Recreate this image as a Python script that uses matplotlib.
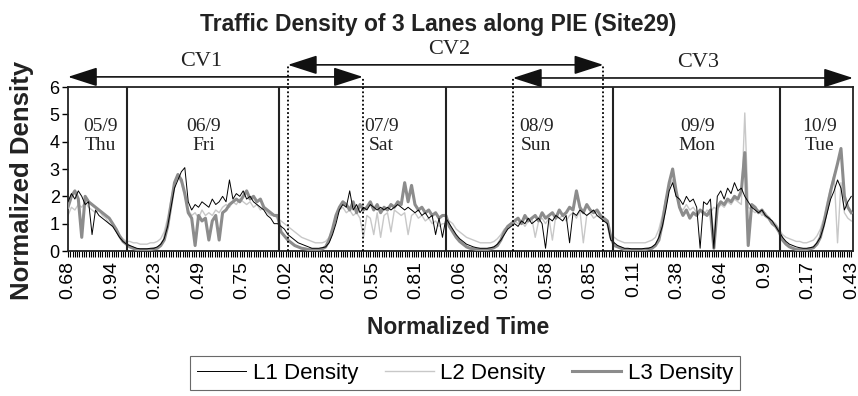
import numpy as np
import matplotlib.pyplot as plt

plt.rcParams['font.family'] = 'Liberation Sans'

# 5-min samples; values read every 6 samples (30 min), from Thu 16:19 to Tue 10:20
step = 6
tick_every = 76
tick_labels = ['0.68', '0.94', '0.23', '0.49', '0.75', '0.02', '0.28', '0.55', '0.81',
               '0.06', '0.32', '0.58', '0.85', '0.11', '0.38', '0.64', '0.9', '0.17', '0.43']

l1_density = (
    # Thu
    [1.8, 2.1, 1.9, 2.2, 2.0, 1.7, 1.8, 0.6, 1.5, 1.3, 1.2, 1.1, 1.0, 0.9, 0.7, 0.5, 0.35, 0.25]
    # Fri
    + [0.2, 0.15, 0.1, 0.08, 0.08, 0.08, 0.1, 0.1, 0.15, 0.25,
       0.45, 0.9, 1.6, 2.3, 2.6, 2.9, 3.05, 1.8, 1.5, 1.7,
       1.6, 1.8, 1.7, 1.6, 1.9, 1.7, 1.8, 2.0, 1.8, 2.6,
       1.9, 2.1, 2.0, 2.2, 1.9, 2.0, 1.8, 1.7, 1.6, 1.5,
       1.3, 1.2, 1.0, 1.0]
    # Sat
    + [0.9, 0.8, 0.6, 0.5, 0.4, 0.3, 0.25, 0.2, 0.15, 0.1,
       0.1, 0.1, 0.12, 0.15, 0.3, 0.6, 1.0, 1.5, 1.7, 1.6,
       2.2, 1.5, 1.7, 1.4, 1.6, 1.5, 1.7, 1.6, 1.5, 1.6,
       1.5, 1.6, 1.5, 1.6, 1.7, 1.6, 1.5, 1.6, 1.5, 1.4,
       1.5, 1.3, 1.4, 1.2, 1.3, 0.6, 1.2, 0.5, 1.2]
    # Sun
    + [1.0, 0.8, 0.6, 0.45, 0.35, 0.25, 0.2, 0.15, 0.12, 0.1,
       0.1, 0.1, 0.12, 0.15, 0.25, 0.4, 0.6, 0.8, 0.9, 1.0,
       0.9, 1.1, 1.0, 1.2, 1.0, 1.1, 1.2, 1.0, 0.1, 1.2,
       1.1, 1.3, 1.2, 1.1, 1.3, 0.3, 1.4, 1.3, 1.5, 1.4,
       1.3, 1.4, 1.5, 1.3, 1.2, 1.1, 1.0, 0.4]
    # Mon
    + [0.3, 0.2, 0.15, 0.1, 0.1, 0.08, 0.08, 0.08, 0.08, 0.1,
       0.1, 0.15, 0.25, 0.5, 0.9, 1.5, 2.2, 2.5, 2.0, 1.9,
       1.7, 2.0, 1.8, 1.9, 1.6, 0.1, 1.8, 1.7, 1.9, 0.1,
       2.0, 2.2, 1.9, 2.3, 2.1, 2.5, 2.2, 2.3, 2.0, 1.8,
       1.6, 1.5, 1.4, 1.5, 1.3, 1.2, 1.1, 0.9, 0.7]
    # Tue
    + [0.5, 0.35, 0.25, 0.2, 0.15, 0.12, 0.1, 0.1, 0.12, 0.15,
       0.3, 0.5, 0.9, 1.4, 1.9, 2.2, 2.6, 2.3, 1.5, 1.8, 2.0]
)

l2_density = (
    [1.3, 1.6, 1.5, 1.7, 1.6, 1.8, 1.6, 1.5, 1.4, 1.5, 1.3, 1.2, 1.0, 0.9, 0.8, 0.6, 0.45, 0.35]
    + [0.35, 0.3, 0.3, 0.25, 0.25, 0.25, 0.3, 0.3, 0.35, 0.45,
       0.7, 1.2, 1.9, 2.5, 2.7, 2.5, 2.0, 1.5, 1.3, 1.4,
       1.2, 1.5, 1.3, 1.4, 1.3, 1.5, 1.4, 1.6, 1.7, 1.6,
       1.8, 1.7, 1.9, 1.8, 1.7, 1.8, 1.6, 1.7, 1.5, 1.6,
       1.4, 1.3, 1.3, 1.2]
    + [1.1, 1.0, 0.9, 0.8, 0.7, 0.6, 0.5, 0.45, 0.4, 0.35,
       0.3, 0.3, 0.3, 0.35, 0.5, 0.8, 1.2, 1.5, 1.6, 1.4,
       1.5, 1.3, 1.4, 1.2, 0.5, 1.3, 1.2, 0.6, 1.4, 0.5,
       1.3, 1.4, 0.7, 1.5, 1.4, 1.3, 1.4, 0.6, 1.3, 1.4,
       1.2, 1.3, 1.1, 1.2, 1.0, 1.1, 0.9, 1.0, 1.0]
    + [1.1, 1.0, 0.8, 0.7, 0.6, 0.5, 0.45, 0.4, 0.35, 0.3,
       0.3, 0.3, 0.3, 0.35, 0.45, 0.6, 0.8, 0.9, 1.0, 1.1,
       1.0, 1.1, 0.9, 1.1, 1.2, 0.5, 1.1, 1.2, 1.0, 1.2,
       0.4, 1.3, 1.2, 1.3, 1.1, 1.3, 1.4, 1.2, 1.5, 0.3,
       1.3, 1.4, 1.2, 1.3, 1.2, 1.1, 1.0, 0.6]
    + [0.5, 0.4, 0.35, 0.3, 0.3, 0.3, 0.3, 0.3, 0.3, 0.3,
       0.35, 0.4, 0.5, 0.8, 1.3, 1.9, 2.4, 2.6, 2.1, 1.6,
       1.5, 1.7, 1.5, 1.6, 1.4, 1.5, 1.3, 1.5, 1.4, 1.6,
       1.5, 1.7, 1.6, 1.8, 1.7, 1.9, 1.8, 1.7, 5.05, 1.6,
       1.5, 1.4, 1.5, 1.3, 1.4, 1.2, 1.1, 1.0, 0.8]
    + [0.6, 0.5, 0.45, 0.4, 0.35, 0.35, 0.3, 0.3, 0.35, 0.4,
       0.55, 0.8, 1.2, 1.8, 2.3, 2.8, 0.3, 2.5, 1.4, 1.2, 1.1]
)

l3_density = (
    [1.6, 2.0, 2.2, 1.9, 0.5, 2.0, 1.8, 1.7, 1.6, 1.5, 1.4, 1.3, 1.2, 1.0, 0.8, 0.55, 0.35, 0.25]
    + [0.15, 0.1, 0.05, 0.05, 0.05, 0.05, 0.05, 0.08, 0.1, 0.2,
       0.4, 0.9, 1.7, 2.5, 2.8, 2.6, 2.1, 1.4, 1.2, 0.2,
       1.3, 1.1, 1.2, 0.4, 1.1, 1.3, 0.4, 1.4, 1.5, 1.7,
       1.8, 1.9, 1.8, 2.0, 2.2, 1.9, 2.0, 1.8, 1.9, 1.6,
       1.5, 1.4, 1.3, 1.3]
    + [0.7, 0.55, 0.4, 0.3, 0.2, 0.15, 0.1, 0.08, 0.05, 0.05,
       0.05, 0.05, 0.08, 0.15, 0.4, 0.8, 1.3, 1.6, 1.8, 1.7,
       1.5, 1.8, 1.4, 1.7, 1.5, 1.6, 1.8, 1.5, 1.7, 1.4,
       1.6, 1.5, 1.7, 1.6, 1.8, 1.7, 2.5, 1.8, 2.4, 1.7,
       1.5, 1.6, 1.4, 1.5, 1.3, 1.4, 1.2, 1.3, 1.3]
    + [0.9, 0.7, 0.5, 0.35, 0.25, 0.15, 0.1, 0.08, 0.05, 0.05,
       0.05, 0.05, 0.08, 0.12, 0.2, 0.4, 0.7, 0.9, 1.0, 1.1,
       1.2, 1.0, 1.3, 1.1, 1.2, 1.3, 1.1, 1.4, 1.2, 1.3,
       1.4, 1.2, 1.5, 1.3, 1.4, 1.6, 1.5, 2.2, 1.6, 1.4,
       1.7, 1.5, 1.4, 1.5, 1.3, 1.2, 1.1, 0.5]
    + [0.2, 0.15, 0.1, 0.05, 0.05, 0.05, 0.05, 0.05, 0.05, 0.05,
       0.08, 0.1, 0.2, 0.4, 1.0, 1.8, 2.5, 3.0, 2.2, 1.6,
       1.3, 1.5, 1.2, 1.4, 1.3, 1.5, 1.4, 1.3, 1.5, 0.1,
       1.6, 1.8, 1.7, 1.9, 1.8, 2.0, 1.9, 2.2, 3.6, 0.2,
       1.7, 1.6, 1.4, 1.5, 1.3, 1.2, 1.0, 0.9, 0.7]
    + [0.4, 0.25, 0.15, 0.1, 0.05, 0.05, 0.05, 0.05, 0.08, 0.12,
       0.25, 0.5, 1.0, 1.6, 2.2, 2.7, 3.2, 3.75, 2.0, 1.6, 1.4]
)

# day separators (sample index) and labels
day_edges = [103, 369, 660, 952, 1244]
day_text = ['05/9\nThu', '06/9\nFri', '07/9\nSat', '08/9\nSun', '09/9\nMon', '10/9\nTue']
day_text_x = [56, 237, 547, 818, 1099, 1312]

# cross-validation windows
cv_names = ['CV1', 'CV2', 'CV3']
cv_start = [0, 384, 777]
cv_end = [515, 935, 1371]
cv_level = [6.37, 6.81, 6.33]
cv_text_x = [232, 666, 1101]
cv_text_y = [6.92, 7.36, 6.88]

x = np.arange(len(l1_density)) * step

fig = plt.figure(figsize=(8.58, 3.96), dpi=100)
ax = fig.add_axes([68 / 858, 1 - 251 / 396, 785 / 858, 164 / 396])

ax.plot(x, l2_density, color='#c8c8c8', lw=1.0, label='L2 Density', zorder=2)
ax.plot(x, l3_density, color='#8c8c8c', lw=2.2, label='L3 Density', zorder=3)
ax.plot(x, l1_density, color='black', lw=0.7, label='L1 Density', zorder=4)

for d in day_edges:
    ax.axvline(d, color='#222222', lw=1.5, zorder=5)
for t, tx in zip(day_text, day_text_x):
    ax.text(tx, 4.2, t, ha='center', va='center', fontsize=14,
            family='Liberation Serif', linespacing=1.15, color='#222222')

# arrows and dotted window edges above the plot
for s, e, lv in zip(cv_start, cv_end, cv_level):
    ax.annotate('', xy=(e, lv), xytext=(s, lv), xycoords='data', annotation_clip=False,
                arrowprops=dict(arrowstyle='<|-|>,head_length=1.3,head_width=0.42',
                                color='#111111', lw=1.2, mutation_scale=14,
                                shrinkA=0, shrinkB=0))
edges = [(cv_start[1], cv_level[1]), (cv_end[0], cv_level[0]),
         (cv_start[2], cv_level[2]), (cv_end[1], cv_level[1])]
for ex, ey in edges:
    ax.plot([ex, ex], [0, ey], color='black', lw=1.3, linestyle=(0, (1, 1.3)),
            clip_on=False, zorder=6)
for n, tx, ty in zip(cv_names, cv_text_x, cv_text_y):
    ax.text(tx, ty, n, ha='center', va='center', fontsize=16,
            family='Liberation Serif', color='#222222')

ax.set_xlim(0, 1371)
ax.set_ylim(0, 6)
ax.set_yticks(range(0, 7))
ax.set_xticks(np.arange(len(tick_labels)) * tick_every)
ax.set_xticklabels(tick_labels, rotation=90)
ax.set_xticks(np.arange(0, 1372, 4), minor=True)
ax.tick_params(axis='x', which='both', direction='out', length=4, width=0.8,
               labelsize=14, pad=3)
ax.tick_params(axis='y', direction='out', length=4, width=1.0, labelsize=13, pad=2)
for sp in ax.spines.values():
    sp.set_linewidth(1.3)
    sp.set_color('#222222')

fig.text(438 / 858, 1 - 25 / 396, 'Traffic Density of 3 Lanes along PIE (Site29)',
         ha='center', va='center', fontsize=16.5, fontweight='bold', color='#222222')
fig.text(22 / 858, 1 - 180 / 396, 'Normalized Density', rotation=90,
         ha='center', va='center', fontsize=18.5, fontweight='bold', color='#222222')
fig.text(458 / 858, 1 - 327 / 396, 'Normalized Time',
         ha='center', va='center', fontsize=16.5, fontweight='bold', color='#222222')

h, lab = ax.get_legend_handles_labels()
order = [2, 0, 1]
leg = fig.legend([h[i] for i in order], [lab[i] for i in order], ncol=3,
                 loc='center', bbox_to_anchor=(465 / 858, 1 - 373 / 396),
                 fontsize=16, frameon=True, fancybox=False, edgecolor='#444444',
                 handlelength=2.2, handletextpad=0.3, columnspacing=1.2,
                 borderpad=0.3)
leg.get_frame().set_linewidth(0.8)

fig.savefig('out.png', dpi=100)
